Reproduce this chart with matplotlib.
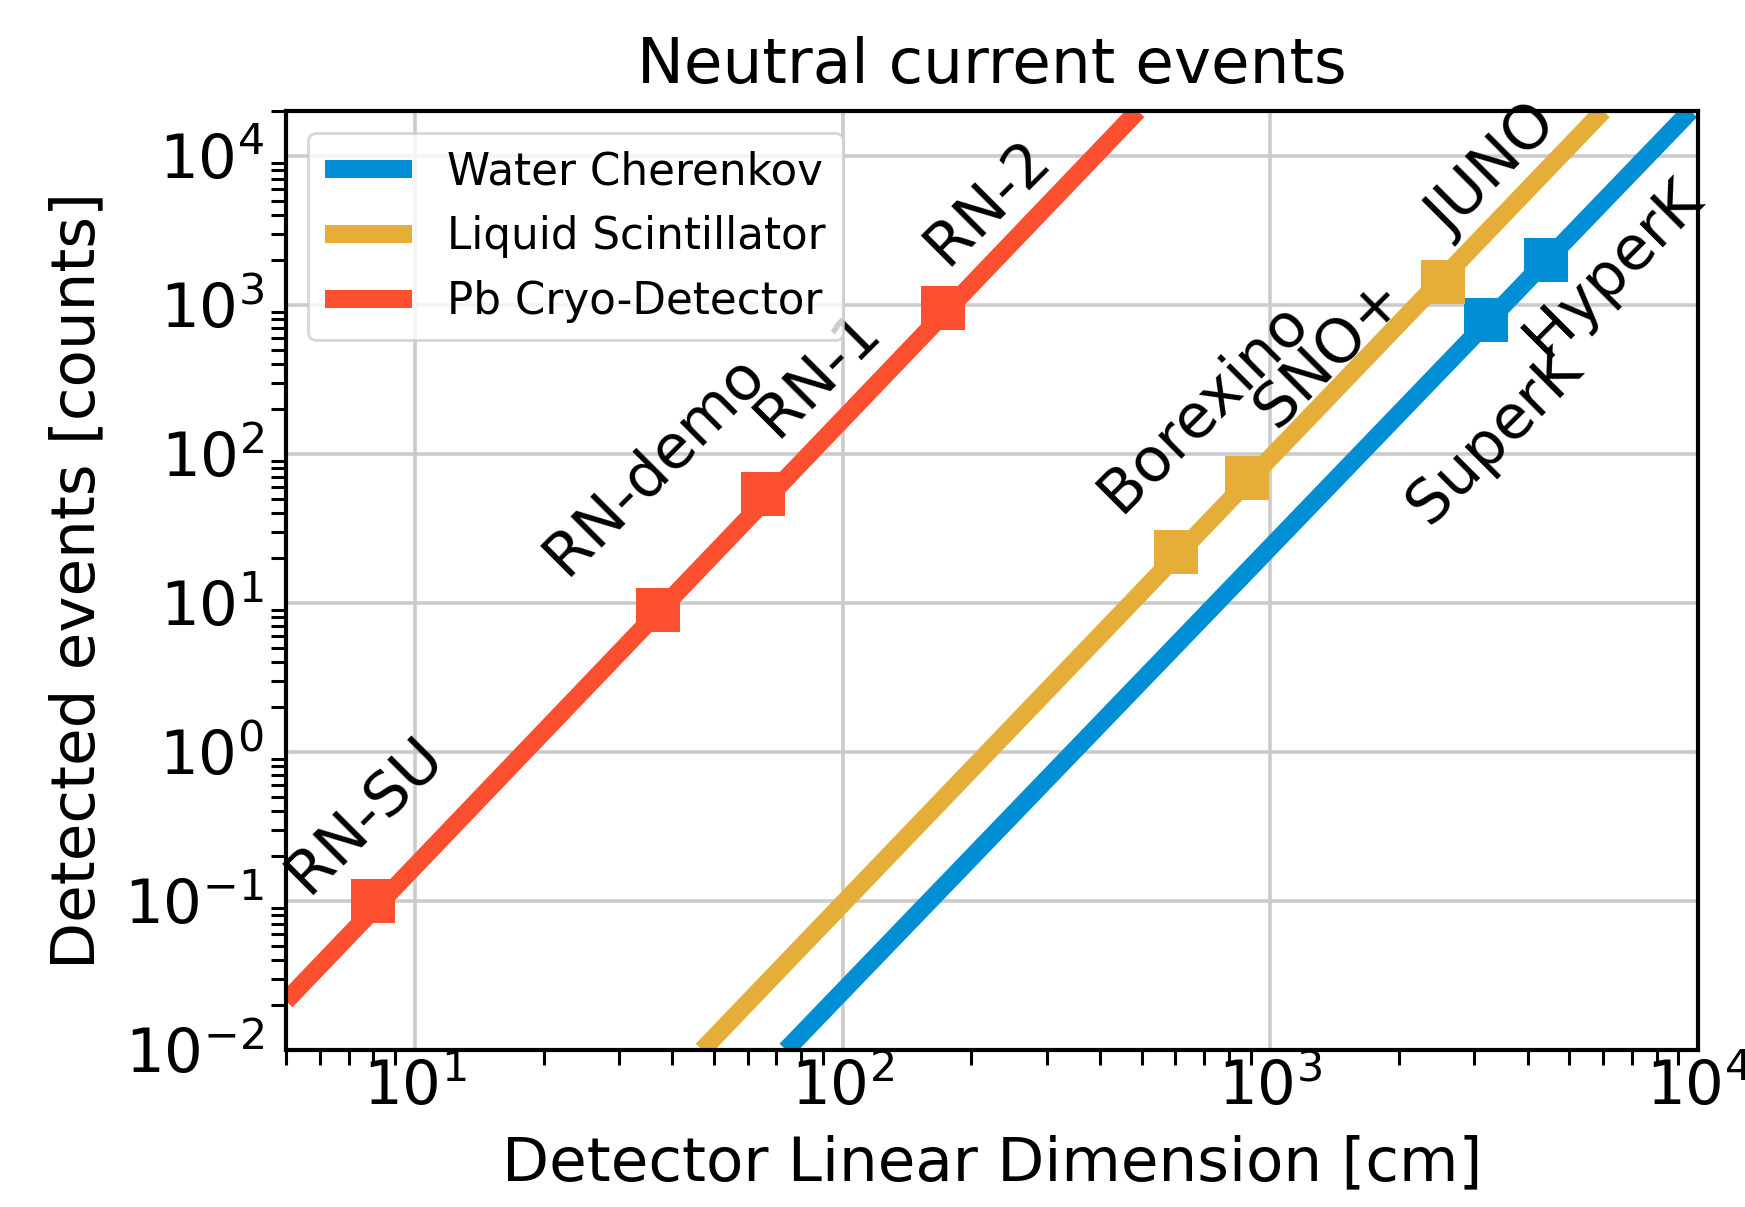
import matplotlib
matplotlib.use("Agg")
import matplotlib.pyplot as plt

# line end points (where each line meets the frame)
water_line_L = [73.8, 9600]
water_line_N = [0.01, 2.0e4]
ls_line_L = [47, 6000]
ls_line_N = [0.01, 2.0e4]
pb_line_L = [5, 490]
pb_line_N = [0.0213, 2.0e4]

# detectors
water_names = ["SuperK", "HyperK"]
water_L = [3200, 4420]
water_N = [790, 2000]

ls_names = ["Borexino", "SNO+", "JUNO"]
ls_L = [601, 880, 2530]
ls_N = [22, 69, 1420]

pb_names = ["RN-SU", "RN-demo", "RN-1", "RN-2"]
pb_L = [8.0, 37, 65, 172]
pb_N = [0.1, 9.0, 54, 955]

c_water = "#008fd5"
c_ls = "#e5ae38"
c_pb = "#fc4f30"

# label offsets (points) from each marker
label_off = {
    "SuperK": (3, -42), "HyperK": (24, -3),
    "Borexino": (10, 52), "SNO+": (30, 45), "JUNO": (18, 40),
    "RN-SU": (-3, 31), "RN-demo": (-1, 52), "RN-1": (20, 43), "RN-2": (16, 38),
}

fig = plt.figure(figsize=(8.725, 6.035), dpi=200)
ax = fig.add_axes([0.1639, 0.1301, 0.8092, 0.778])

ax.plot(water_line_L, water_line_N, color=c_water, lw=6.5, label="Water Cherenkov", solid_capstyle="butt")
ax.plot(ls_line_L, ls_line_N, color=c_ls, lw=6.5, label="Liquid Scintillator", solid_capstyle="butt")
ax.plot(pb_line_L, pb_line_N, color=c_pb, lw=6.5, label="Pb Cryo-Detector", solid_capstyle="butt")

for names, L, N, c in [(water_names, water_L, water_N, c_water),
                       (ls_names, ls_L, ls_N, c_ls),
                       (pb_names, pb_L, pb_N, c_pb)]:
    ax.plot(L, N, ls="none", marker="s", ms=16, color=c, mew=0, zorder=3)
    for name, x, y in zip(names, L, N):
        ax.annotate(name, (x, y), xytext=label_off[name], textcoords="offset points",
                    ha="center", va="center", rotation=45, fontsize=22,
                    annotation_clip=False, zorder=4)

ax.set_xscale("log")
ax.set_yscale("log")
ax.set_xlim(5, 1e4)
ax.set_ylim(1e-2, 2e4)

ax.grid(True, which="major", color="#cbcbcb", lw=1.3)
ax.set_axisbelow(True)
for s in ax.spines.values():
    s.set_linewidth(1.5)

ax.tick_params(which="major", length=0, labelsize=22)
ax.tick_params(axis="x", which="major", pad=3)
ax.tick_params(axis="y", which="major", pad=8)
ax.tick_params(which="minor", length=5.4, width=1.1, direction="out")

ax.set_title("Neutral current events", fontsize=22.6, pad=10)
ax.set_xlabel("Detector Linear Dimension [cm]", fontsize=22, labelpad=6)
ax.set_ylabel("Detected events [counts]", fontsize=22, labelpad=6)

ax.legend(loc="upper left", fontsize=15.7)

fig.savefig("out.png", dpi=200)
